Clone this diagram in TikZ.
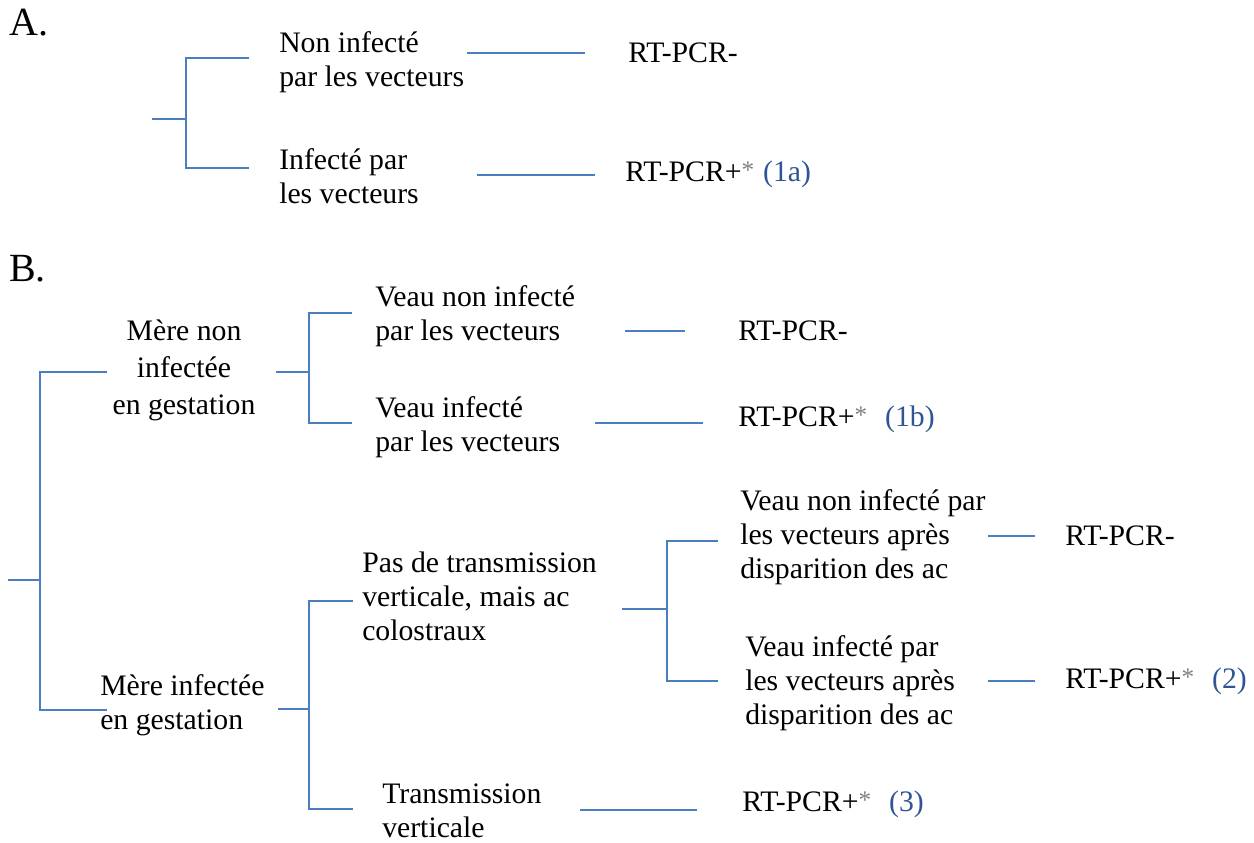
\documentclass[tikz,border=0pt]{standalone}
\usepackage{fontspec}
\setmainfont{Liberation Serif}
\definecolor{lnk}{RGB}{74,126,193}
\definecolor{lab}{RGB}{47,85,151}
\definecolor{ast}{RGB}{128,128,128}
\newcommand{\astk}{\raisebox{0.08em}{\textcolor{ast}{\fontsize{19}{19}\selectfont *}}}
\newcommand{\rtpos}[2]{RT-PCR+\astk\hspace{#2}\textcolor{lab}{(#1)}}
\begin{document}
\begin{tikzpicture}[x=0.75pt,y=-0.75pt,
  link/.style={draw=lnk,line width=1.1pt},
  txt/.style={inner sep=0pt,anchor=base west,align=left,font=\fontsize{22.3}{25.5}\selectfont},
  ctxt/.style={inner sep=0pt,anchor=base,align=center,font=\fontsize{22.3}{27.5}\selectfont},
  big/.style={inner sep=0pt,anchor=base west,font=\fontsize{30}{32}\selectfont}]
\useasboundingbox (0,0) rectangle (1254,843);

% ---------- A ----------
\node[big] (lA) at (9,35) {A.};
\node[txt] (a1) at (279,86) {Non infecté\\par les vecteurs};
\node[txt] (a2) at (279,203) {Infecté par\\les vecteurs};
\node[txt] (ra1) at (628,62) {RT-PCR-};
\node[txt] (ra2) at (625,181) {\rtpos{1a}{0.3em}};

\coordinate (as) at (152,119);
\coordinate (aj) at (186,119);
\coordinate (at) at (249,58);
\coordinate (ab) at (249,168);
\draw[link] (as) -- (aj);
\draw[link] (at) -| (aj) |- (ab);
\coordinate (al1s) at (467,53); \coordinate (al1e) at (585,53);
\coordinate (al2s) at (477,175); \coordinate (al2e) at (595,175);
\draw[link] (al1s) -- (al1e);
\draw[link] (al2s) -- (al2e);

% ---------- B ----------
\node[big] (lB) at (9,281) {B.};
\coordinate (bs) at (8,580);
\coordinate (bj) at (40,580);
\coordinate (bt) at (107,372);
\coordinate (bb) at (107,710);
\draw[link] (bs) -- (bj);
\draw[link] (bt) -| (bj) |- (bb);

\node[ctxt] (m1) at (184,414) {Mère non\\infectée\\en gestation};
\node[txt] (m2) at (100,729) {Mère infectée\\en gestation};

% bracket from m1
\coordinate (cs) at (276,372);
\coordinate (cj) at (309,372);
\coordinate (ct) at (352,313);
\coordinate (cb) at (352,423);
\draw[link] (cs) -- (cj);
\draw[link] (ct) -| (cj) |- (cb);

\node[txt] (v1) at (375,340) {Veau non infecté\\par les vecteurs};
\node[txt] (v2) at (375,451) {Veau infecté\\par les vecteurs};
\node[txt] (rv1) at (738,340) {RT-PCR-};
\node[txt] (rv2) at (738,426) {\rtpos{1b}{0.6em}};
\coordinate (vl1s) at (625,331); \coordinate (vl1e) at (685,331);
\coordinate (vl2s) at (595,423); \coordinate (vl2e) at (703,423);
\draw[link] (vl1s) -- (vl1e);
\draw[link] (vl2s) -- (vl2e);

% bracket from m2
\coordinate (ds) at (278,709);
\coordinate (dj) at (309,709);
\coordinate (dt) at (353,601);
\coordinate (db) at (353,809);
\draw[link] (ds) -- (dj);
\draw[link] (dt) -| (dj) |- (db);

\node[txt] (p1) at (362,640) {Pas de transmission\\verticale, mais ac\\colostraux};
\node[txt] (p2) at (382,837) {Transmission\\verticale};

% bracket from p1
\coordinate (es) at (622,609);
\coordinate (ej) at (667,609);
\coordinate (et) at (718,541);
\coordinate (eb) at (718,681);
\draw[link] (es) -- (ej);
\draw[link] (et) -| (ej) |- (eb);

\node[txt] (w1) at (740,578) {Veau non infecté par\\les vecteurs après\\disparition des ac};
\node[txt] (w2) at (745,724) {Veau infecté par\\les vecteurs après\\disparition des ac};
\node[txt] (rw1) at (1065,545) {RT-PCR-};
\node[txt] (rw2) at (1065,688) {\rtpos{2}{0.6em}};
\coordinate (wl1s) at (988,536); \coordinate (wl1e) at (1035,536);
\coordinate (wl2s) at (988,681); \coordinate (wl2e) at (1035,681);
\draw[link] (wl1s) -- (wl1e);
\draw[link] (wl2s) -- (wl2e);

\node[txt] (rp2) at (742,811) {\rtpos{3}{0.6em}};
\coordinate (pl2s) at (580,810); \coordinate (pl2e) at (697,810);
\draw[link] (pl2s) -- (pl2e);
\end{tikzpicture}
\end{document}
